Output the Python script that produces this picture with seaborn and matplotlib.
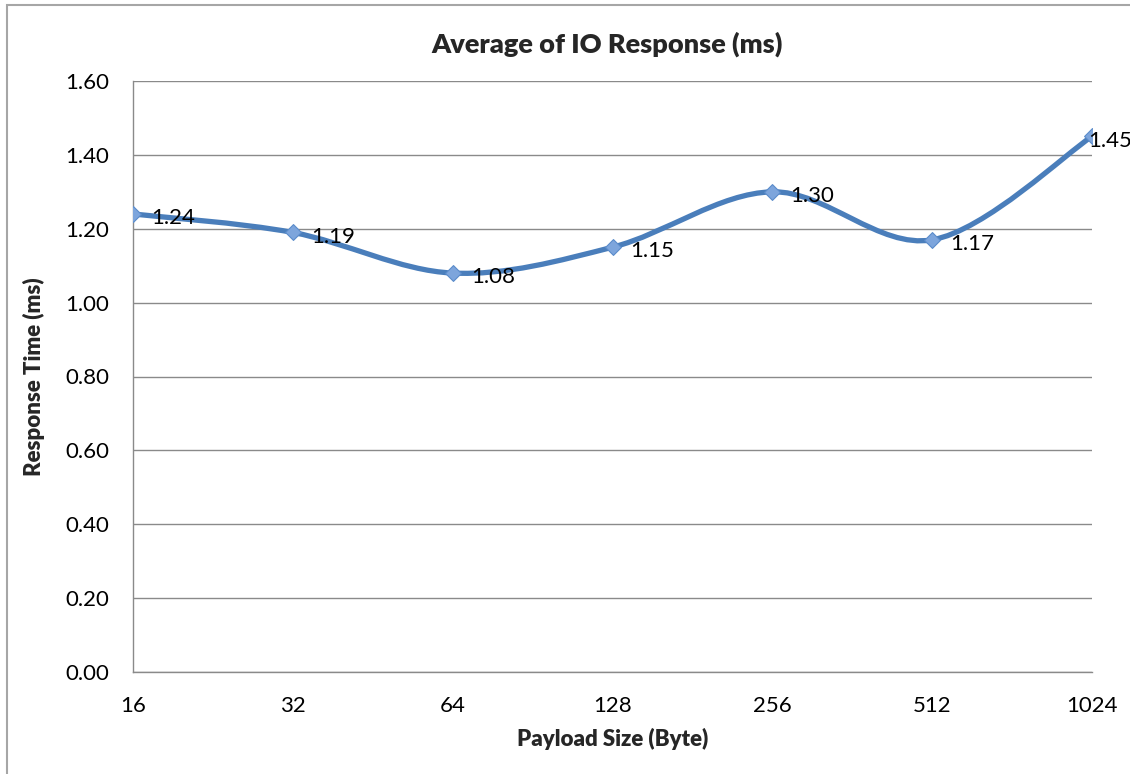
import numpy as np
import pandas as pd
import matplotlib
matplotlib.use("Agg")
import matplotlib.pyplot as plt
from matplotlib.path import Path
from matplotlib.patches import PathPatch, Rectangle
from matplotlib.ticker import FormatStrFormatter
import seaborn as sns

# Payload sizes (bytes) and their average IO response times (ms)
payload_sizes = ["16", "32", "64", "128", "256", "512", "1024"]
response_ms = [1.24, 1.19, 1.08, 1.15, 1.30, 1.17, 1.45]
y_ticks = [0.00, 0.20, 0.40, 0.60, 0.80, 1.00, 1.20, 1.40, 1.60]

title_text = "Average of IO Response (ms)"
x_label = "Payload Size (Byte)"
y_label = "Response Time (ms)"

sns.set_theme(style="white")
plt.rcParams["font.family"] = ["Lato", "DejaVu Sans"]

LINE_BLUE = "#4A7EBB"
MARKER_FILL = "#7DA5DC"
GRID_GREY = "#8A8A8A"

df = pd.DataFrame({"pos": np.arange(len(payload_sizes)), "size": payload_sizes,
                   "ms": response_ms})

fig = plt.figure(figsize=(11.30, 7.74), dpi=100)
ax = fig.add_axes([133 / 1130, 1 - 672 / 774, (1092 - 133) / 1130, (672 - 81) / 774])

# Smoothed line through the points: cubic Bezier segments with
# Catmull-Rom style control points (tension 1/6), built in data space.
pts = df[["pos", "ms"]].to_numpy(dtype=float)
n = len(pts)
verts = [tuple(pts[0])]
codes = [Path.MOVETO]
for i in range(n - 1):
    p_prev = pts[max(i - 1, 0)]
    p0 = pts[i]
    p1 = pts[i + 1]
    p_next = pts[min(i + 2, n - 1)]
    c1 = p0 + (p1 - p_prev) / 6.0
    c2 = p1 - (p_next - p0) / 6.0
    verts += [tuple(c1), tuple(c2), tuple(p1)]
    codes += [Path.CURVE4, Path.CURVE4, Path.CURVE4]
curve = PathPatch(Path(verts, codes), facecolor="none", edgecolor=LINE_BLUE,
                  lw=3.8, capstyle="round", joinstyle="round", zorder=3)
ax.add_patch(curve)

sns.scatterplot(data=df, x="pos", y="ms", marker="D", s=65, color=MARKER_FILL,
                edgecolor="#5B8CCB", linewidth=0.8, zorder=4, ax=ax, legend=False)

# Value labels to the right of each point
for i, (x, y) in enumerate(zip(df["pos"], df["ms"])):
    dx = 13 if i < n - 1 else -3
    ax.annotate(f"{y:.2f}", (x, y), xytext=(dx, -3), textcoords="offset points",
                ha="left", va="center", fontsize=16, color="black", zorder=5,
                annotation_clip=False)

ax.set_xlim(0, n - 1)
ax.set_ylim(0, 1.6)
ax.set_xticks(df["pos"])
ax.set_xticklabels(payload_sizes)
ax.set_yticks(y_ticks)
ax.yaxis.set_major_formatter(FormatStrFormatter("%.2f"))
ax.grid(axis="y", color=GRID_GREY, lw=1.0)
ax.set_axisbelow(True)

for side in ("top", "right"):
    ax.spines[side].set_visible(False)
for side in ("left", "bottom"):
    ax.spines[side].set_color(GRID_GREY)
    ax.spines[side].set_linewidth(1.0)

ax.tick_params(axis="both", which="major", direction="out", length=6, width=1.0,
               color=GRID_GREY, labelsize=16, labelcolor="black")
ax.tick_params(axis="y", pad=11)
ax.tick_params(axis="x", pad=11)

ax.set_xlabel(x_label, fontsize=16, fontweight="heavy", labelpad=9)
ax.set_ylabel(y_label, fontsize=16, fontweight="heavy", labelpad=15)
fig.text((133 + 1092) / 2 / 1130 - 0.005, 1 - 44 / 774, title_text, ha="center",
         va="center", fontsize=19.5, fontweight="heavy")

# Chart frame
fig.patches.append(Rectangle((7 / 1130, -0.1), 1.2, 1 + 0.1 - 5.5 / 774,
                             transform=fig.transFigure, fill=False,
                             edgecolor="#A6A6A6", lw=1.5, zorder=0))

fig.savefig("out.png", dpi=100)
